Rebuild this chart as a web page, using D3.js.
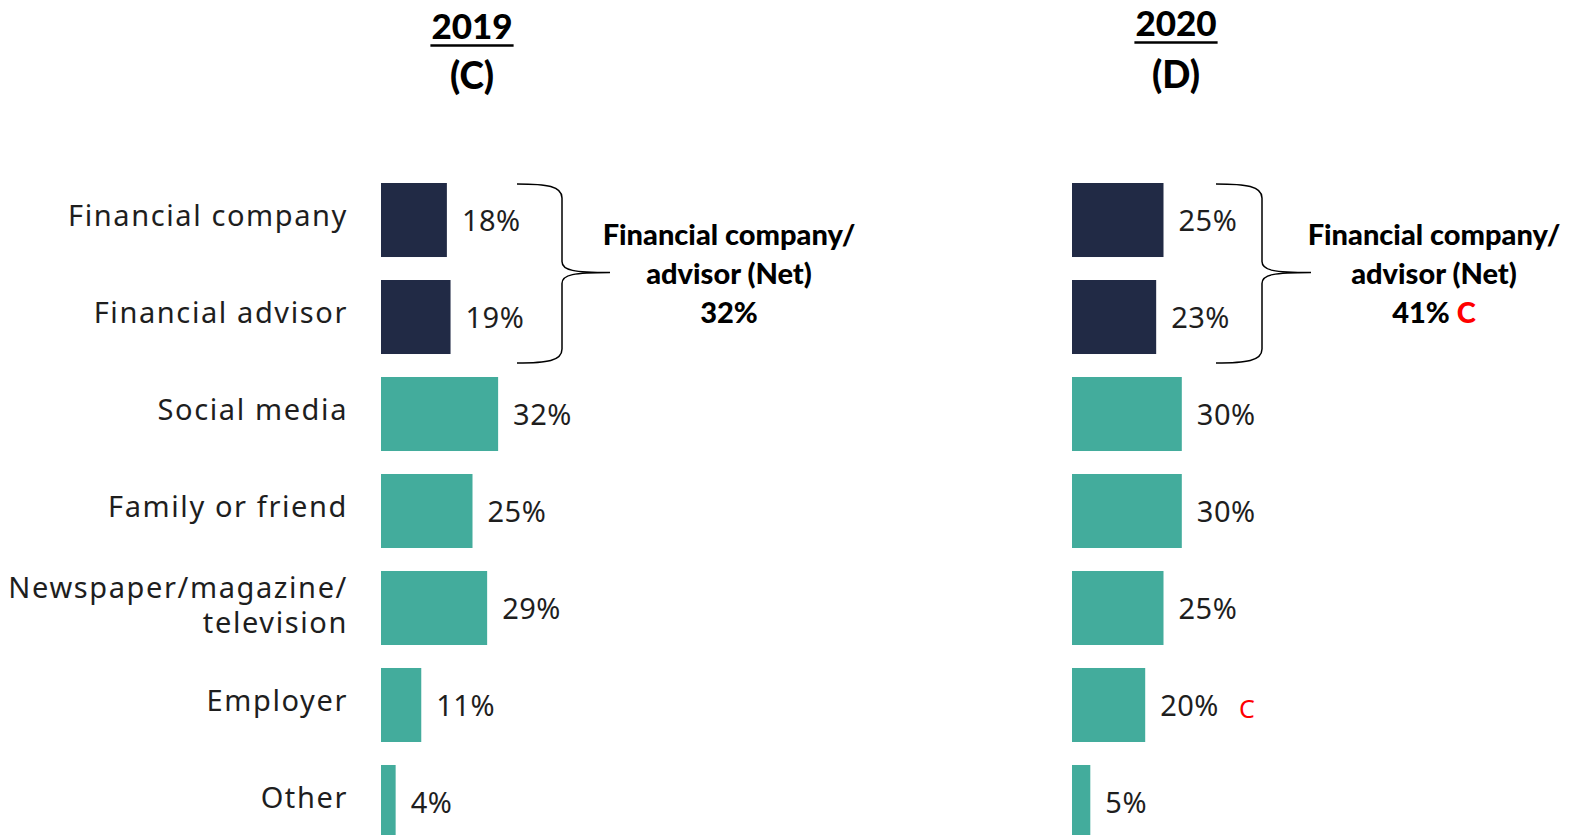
<!DOCTYPE html>
<html>
<head>
<meta charset="utf-8">
<script src="https://cdn.jsdelivr.net/npm/d3@7"></script>
<style>
  html, body { margin: 0; padding: 0; background: #fff; overflow: hidden; }
  svg { display: block; }
</style>
</head>
<body>
<svg id="chart" width="1578" height="835"></svg>
<script>
// Sources of retirement information, 2019 vs 2020 (% of respondents)
const categories = [
  "Financial company",
  "Financial advisor",
  "Social media",
  "Family or friend",
  "Newspaper/magazine/\ntelevision",
  "Employer",
  "Other"
];
const values2019 = [18, 19, 32, 25, 29, 11, 4];
const values2020 = [25, 23, 30, 30, 25, 20, 5];
const sigLetters2019 = ["", "", "", "", "", "", ""];
const sigLetters2020 = ["", "", "", "", "", "C", ""];
const advisorGroup = ["Financial company", "Financial advisor"];
const panelYears = ["2019", "2020"];
const panelLetters = ["(C)", "(D)"];
const netLines = ["Financial company/", "advisor (Net)"];
const netValues = [32, 41];
const netSig = ["", "C"];

const NAVY = "#212A45";
const TEAL = "#43AC9C";
const RED = "#FF0000";
const TEXT = "#1e1e1e";
const LABEL_FONT = "'Noto Sans', 'Open Sans', sans-serif";
const HEAD_FONT = "Lato, 'Open Sans', sans-serif";

const svg = d3.select("#chart");

// Shared category axis
const y = d3.scaleBand()
  .domain(categories)
  .range([183, 839])
  .paddingInner(0.237)
  .paddingOuter(0);
const bw = y.bandwidth();

// Category labels (right aligned, left of the 2019 bars)
const catG = svg.append("g").attr("class", "categories");
categories.forEach(c => {
  const lines = c.split("\n");
  const cy = y(c) + bw / 2;
  const first = lines.length === 1 ? cy + 6 : cy - 10;
  lines.forEach((ln, i) => {
    catG.append("text")
      .attr("x", 348).attr("y", first + i * 35)
      .attr("text-anchor", "end")
      .attr("font-family", LABEL_FONT)
      .attr("font-size", 29)
      .attr("letter-spacing", 1.6)
      .attr("fill", TEXT)
      .text(ln);
  });
});

const panels = [
  { year: panelYears[0], letter: panelLetters[0], values: values2019, sig: sigLetters2019,
    x0: 381, titleX: 472, titleY: 39, letterY: 89,
    braceArm: 517, braceV: 562, braceTip: 610, netX: 729,
    net: netValues[0], netSig: netSig[0] },
  { year: panelYears[1], letter: panelLetters[1], values: values2020, sig: sigLetters2020,
    x0: 1072, titleX: 1176, titleY: 36, letterY: 88,
    braceArm: 1216, braceV: 1262, braceTip: 1311, netX: 1434,
    net: netValues[1], netSig: netSig[1] }
];

panels.forEach(p => {
  const g = svg.append("g");
  const x = d3.scaleLinear().domain([0, 100]).range([p.x0, p.x0 + 366]);
  const rows = categories.map((c, i) => ({ cat: c, v: p.values[i], sig: p.sig[i] }));

  // Heading: underlined year, then the column letter
  const yr = g.append("text")
    .attr("x", p.titleX).attr("y", p.titleY)
    .attr("text-anchor", "middle")
    .attr("font-family", HEAD_FONT)
    .attr("font-weight", 900)
    .attr("font-size", 35)
    .attr("fill", "#000")
    .text(p.year);
  const bb = yr.node().getBBox();
  g.append("line")
    .attr("x1", bb.x - 1).attr("x2", bb.x + bb.width + 1)
    .attr("y1", p.titleY + 6.5).attr("y2", p.titleY + 6.5)
    .attr("stroke", "#000").attr("stroke-width", 2.5);
  g.append("text")
    .attr("x", p.titleX).attr("y", p.letterY)
    .attr("text-anchor", "middle")
    .attr("font-family", HEAD_FONT)
    .attr("font-weight", 900)
    .attr("font-size", 37)
    .attr("fill", "#000")
    .text(p.letter);

  // Bars
  g.selectAll("rect.bar").data(rows).join("rect")
    .attr("class", "bar")
    .attr("x", x(0))
    .attr("y", d => y(d.cat))
    .attr("width", d => x(d.v) - x(0))
    .attr("height", bw)
    .attr("fill", d => advisorGroup.includes(d.cat) ? NAVY : TEAL);

  // Value labels
  const vl = g.selectAll("text.val").data(rows).join("text")
    .attr("class", "val")
    .attr("x", d => x(d.v) + 15)
    .attr("y", d => y(d.cat) + bw / 2 + 11)
    .attr("font-family", LABEL_FONT)
    .attr("font-size", 29)
    .attr("letter-spacing", 0.5)
    .attr("fill", TEXT)
    .text(d => d.v + "%");

  // Significance letters
  vl.each(function (d) {
    if (!d.sig) return;
    const b = this.getBBox();
    g.append("text")
      .attr("x", b.x + b.width + 20)
      .attr("y", y(d.cat) + bw / 2 + 13)
      .attr("font-family", LABEL_FONT)
      .attr("font-size", 25)
      .attr("fill", RED)
      .text(d.sig);
  });

  // Curly brace grouping the two advisor rows
  const top = y(advisorGroup[0]) + 1;
  const bot = y(advisorGroup[1]) + bw + 9;
  const mid = (top + bot) / 2;
  const a = p.braceArm, v = p.braceV, t = p.braceTip;
  const path = d3.path();
  path.moveTo(a, top);
  path.bezierCurveTo(a + 30, top, v, top + 2, v, top + 14);
  path.lineTo(v, mid - 12);
  path.bezierCurveTo(v, mid - 3, v + 12, mid - 1, t, mid - 1);
  path.moveTo(t, mid - 1);
  path.bezierCurveTo(v + 12, mid - 1, v, mid + 1, v, mid + 10);
  path.lineTo(v, bot - 14);
  path.bezierCurveTo(v, bot - 2, a + 30, bot, a, bot);
  g.append("path")
    .attr("d", path.toString())
    .attr("fill", "none")
    .attr("stroke", "#000")
    .attr("stroke-width", 1.5);

  // Net annotation
  const nt = g.append("text")
    .attr("text-anchor", "middle")
    .attr("font-family", HEAD_FONT)
    .attr("font-weight", 900)
    .attr("font-size", 29)
    .attr("fill", "#000");
  netLines.forEach((ln, i) => {
    nt.append("tspan").attr("x", p.netX).attr("y", 245 + i * 39).text(ln);
  });
  nt.append("tspan").attr("x", p.netX).attr("y", 323).text(p.net + "%");
  if (p.netSig) {
    nt.append("tspan").attr("fill", RED).text(" " + p.netSig);
  }
});
</script>
</body>
</html>
